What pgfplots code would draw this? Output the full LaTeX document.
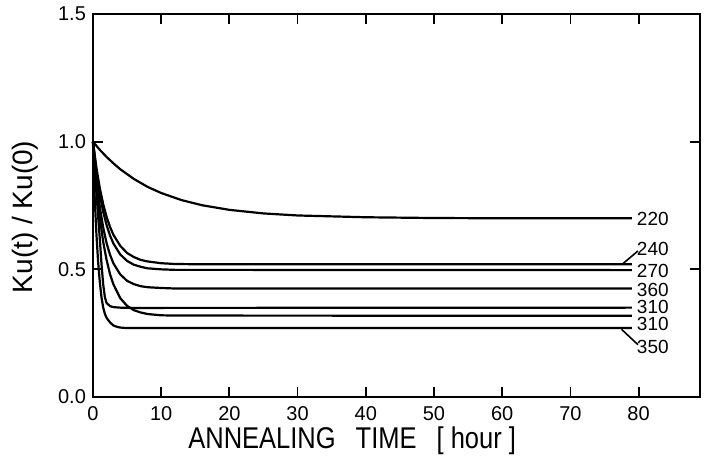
\documentclass[border=0pt]{standalone}
\usepackage{fontspec}
\setmainfont{Liberation Sans}
\usepackage{pgfplots}
\pgfplotsset{compat=1.18}

\begin{document}
\begin{tikzpicture}
\begin{axis}[
  scale only axis,
  width=303.5pt, height=191.5pt,
  xmin=0, xmax=89, ymin=0, ymax=1.5,
  axis line style={line width=1.4pt},
  xtick={0,10,...,80}, ytick={0,0.5,1,1.5},
  tick align=inside, major tick length=5pt,
  tick style={line width=0.9pt, black},
  xticklabel pos=lower, yticklabel pos=left,
  /pgf/number format/assume math mode=true,
  ticklabel style={font=\fontsize{10}{12}\selectfont},
  yticklabel style={/pgf/number format/fixed, /pgf/number format/fixed zerofill,
                    /pgf/number format/precision=1},
  xticklabel style={yshift=-1pt},
  clip=false,
  cycle list={{black, solid}},
  every axis plot/.append style={line width=1.1pt, no marks},
]
% 220
\addplot coordinates {(0,1.0)(1,0.968)(2,0.940)(3,0.915)(4,0.892)(6,0.854)(8,0.823)
  (10,0.799)(13,0.771)(16,0.751)(20,0.733)(25,0.719)(30,0.711)(40,0.704)(50,0.701)(60,0.700)(79,0.700)};
% 240
\addplot coordinates {(0,1.0)(0.5,0.898)(1,0.818)(1.5,0.755)(2,0.705)(2.5,0.666)(3,0.635)
  (4,0.592)(5,0.564)(6,0.548)(7,0.537)(8,0.531)(10,0.524)(12,0.521)(15,0.520)(79,0.520)};
% 270
\addplot coordinates {(0,1.0)(0.5,0.884)(1,0.794)(1.5,0.725)(2,0.673)(2.5,0.632)(3,0.601)
  (4,0.558)(5,0.533)(6,0.518)(7,0.510)(8,0.504)(10,0.500)(12,0.498)(79,0.497)};
% 360
\addplot coordinates {(0,1.0)(0.5,0.854)(1,0.744)(1.5,0.663)(2,0.602)(2.5,0.557)(3,0.523)
  (4,0.480)(5,0.455)(6,0.442)(7,0.434)(8,0.430)(10,0.427)(12,0.425)(79,0.425)};
% 310 (slow)
\addplot coordinates {(0,1.0)(0.5,0.831)(1,0.703)(1.5,0.607)(2,0.536)(2.5,0.481)(3,0.441)
  (4,0.387)(5,0.357)(6,0.340)(7,0.331)(8,0.325)(10,0.320)(12,0.319)(79,0.318)};
% 310 (fast)
\addplot coordinates {(0,1.0)(0.25,0.90)(0.5,0.80)(0.75,0.71)(1.0,0.62)(1.25,0.52)(1.5,0.44)
  (1.75,0.39)(2.0,0.368)(2.5,0.356)(3,0.352)(4,0.350)(6,0.349)(10,0.349)(79,0.350)};
% 350
\addplot coordinates {(0,1.0)(0.25,0.78)(0.5,0.64)(0.75,0.53)(1.0,0.45)(1.25,0.39)(1.5,0.35)
  (1.75,0.325)(2.0,0.31)(2.5,0.292)(3,0.28)(3.5,0.275)(4,0.272)(5,0.270)(79,0.270)};

% curve labels
\begin{scope}[every node/.style={font=\fontsize{9.5}{11}\selectfont, anchor=west, inner sep=0pt}]
  \node at (axis cs:79.7,0.697) {220};
  \node at (axis cs:79.7,0.578) {240};
  \node at (axis cs:79.7,0.493) {270};
  \node at (axis cs:79.7,0.418) {360};
  \node at (axis cs:79.7,0.352) {310};
  \node at (axis cs:79.7,0.285) {310};
  \node at (axis cs:79.7,0.195) {350};
\end{scope}
\draw[line width=0.8pt] (axis cs:77.6,0.520) -- (axis cs:79.9,0.572);
\draw[line width=0.8pt] (axis cs:77.5,0.265) -- (axis cs:79.9,0.205);

% axis labels
\node[font=\fontsize{15}{18}\selectfont] at (rel axis cs:0.427,-0.115)
  {\scalebox{0.85}[1]{ANNEALING\hspace{7.6pt} TIME\hspace{7.6pt} [ hour ]}};
\node[font=\fontsize{14}{17}\selectfont, rotate=90] at (rel axis cs:-0.112,0.47)
  {Ku(t) / Ku(0)};

\coordinate (bl) at (rel axis cs:-0.1532,-0.1619);
\coordinate (tr) at (rel axis cs:1.0066,1.0366);
\end{axis}
\pgfresetboundingbox
\path[use as bounding box] (bl) rectangle (tr);
\end{tikzpicture}
\end{document}
